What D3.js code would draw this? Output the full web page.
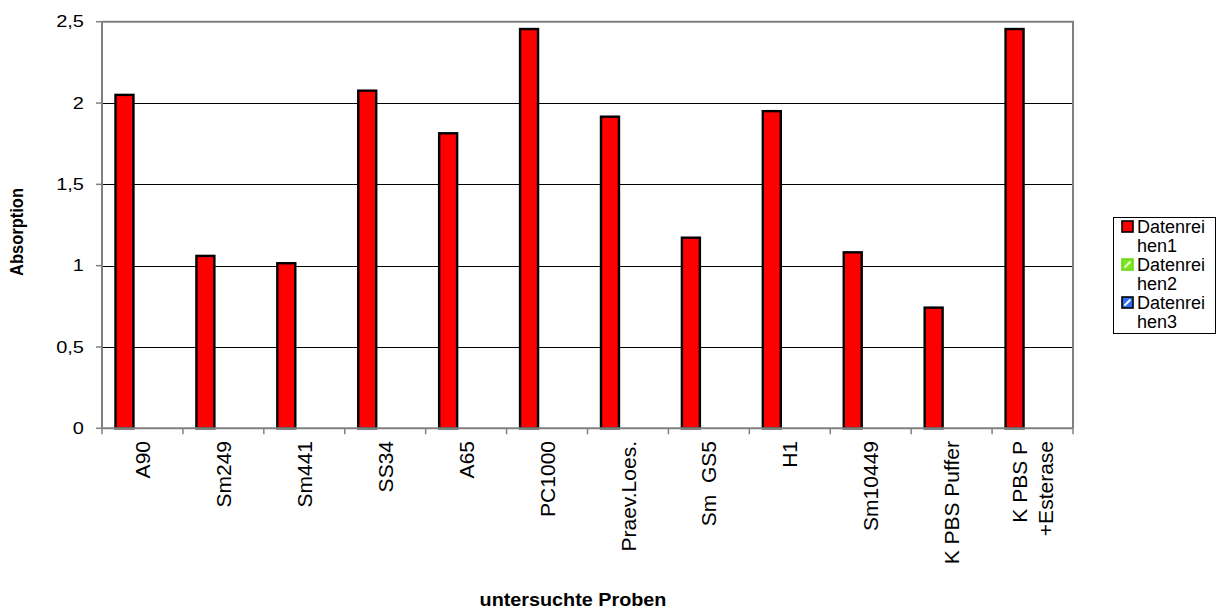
<!DOCTYPE html>
<html>
<head>
<meta charset="utf-8">
<script src="https://cdn.jsdelivr.net/npm/d3@7"></script>
<style>
  html, body { margin: 0; padding: 0; background: #fff; }
  svg { display: block; }
  text { font-family: "Liberation Sans", Arial, sans-serif; fill: #000; white-space: pre; }
</style>
</head>
<body>
<svg id="chart" width="1220" height="612"></svg>
<script>
// Sample names (a "\n" marks a wrapped label)
const categories = ["A90", "Sm249", "Sm441", "SS34", "A65", "PC1000", "Praev.Loes.",
  "Sm  GS5", "H1", "Sm10449", "K PBS Puffer", "K PBS P\n+Esterase"];

// Measured absorption per sample
const datenreihen1 = [2.05, 1.06, 1.015, 2.076, 1.814, 2.455, 1.916, 1.172, 1.95, 1.082, 0.742, 2.455];
const datenreihen2 = [null, null, null, null, null, null, null, null, null, null, null, null];
const datenreihen3 = [null, null, null, null, null, null, null, null, null, null, null, null];

const seriesNames = ["Datenreihen1", "Datenreihen2", "Datenreihen3"];
const legendLines = [["Datenrei", "hen1"], ["Datenrei", "hen2"], ["Datenrei", "hen3"]];
const yTicks = [0, 0.5, 1, 1.5, 2, 2.5];
const yTickLabels = ["0", "0,5", "1", "1,5", "2", "2,5"];

const yTitle = "Absorption";
const xTitle = "untersuchte Proben";

const svg = d3.select("#chart");
const plot = { left: 102, right: 1073, top: 21.7, bottom: 428.3 };

const x0 = d3.scaleBand().domain(categories).range([plot.left, plot.right]).paddingInner(0).paddingOuter(0);
const bw = x0.bandwidth();
// three bars per group, gap of 150% of a bar width
const x1 = d3.scaleBand().domain(seriesNames).range([bw / 6, bw * 5 / 6]).padding(0);
const y = d3.scaleLinear().domain([0, 2.5]).range([plot.bottom, plot.top]);

// horizontal gridlines
svg.append("g")
  .selectAll("line")
  .data(yTicks.filter(v => v > 0 && v < 2.5))
  .join("line")
  .attr("x1", plot.left).attr("x2", plot.right)
  .attr("y1", d => Math.round(y(d)) + 0.5).attr("y2", d => Math.round(y(d)) + 0.5)
  .attr("stroke", "#000").attr("stroke-width", 1);

// plot frame (top and right)
svg.append("path")
  .attr("d", `M${plot.left},${y(2.5)}H${plot.right}V${y(0)}`)
  .attr("fill", "none").attr("stroke", "#808080").attr("stroke-width", 2);

// bars
const seriesData = [datenreihen1, datenreihen2, datenreihen3];
const seriesColors = ["#ff0000", "#7ee620", "#2f6df0"];
const markerStroke = ["#000", "#6fd616", "#000"];
const markerStripe = [null, "#e8ffd8", "#ffffff"];
seriesData.forEach((vals, si) => {
  svg.append("g")
    .selectAll("rect")
    .data(vals.map((v, i) => ({ cat: categories[i], v })).filter(d => d.v != null))
    .join("rect")
    .attr("x", d => x0(d.cat) + x1(seriesNames[si]))
    .attr("width", x1.bandwidth())
    .attr("y", d => y(d.v))
    .attr("height", d => y(0) - y(d.v))
    .attr("fill", seriesColors[si])
    .attr("stroke", "#000")
    .attr("stroke-width", 2.4);
});

// y axis
const yAxis = svg.append("g");
yAxis.append("line")
  .attr("x1", plot.left).attr("x2", plot.left)
  .attr("y1", y(0)).attr("y2", y(2.5))
  .attr("stroke", "#808080").attr("stroke-width", 2);
yAxis.selectAll("line.tick")
  .data(yTicks)
  .join("line")
  .attr("class", "tick")
  .attr("x1", plot.left - 6).attr("x2", plot.left)
  .attr("y1", d => y(d)).attr("y2", d => y(d))
  .attr("stroke", "#808080").attr("stroke-width", 1.5);
yAxis.selectAll("text")
  .data(yTicks)
  .join("text")
  .attr("transform", d => `translate(84,${y(d)}) scale(1.25,1)`)
  .attr("text-anchor", "end")
  .attr("dy", "0.36em")
  .attr("font-size", 16)
  .text((d, i) => yTickLabels[i]);

// x axis
const xAxis = svg.append("g");
xAxis.append("line")
  .attr("x1", plot.left).attr("x2", plot.right)
  .attr("y1", y(0)).attr("y2", y(0))
  .attr("stroke", "#808080").attr("stroke-width", 2);
const bounds = categories.map(c => x0(c)).concat([x0(categories[categories.length - 1]) + bw]);
xAxis.selectAll("line.tick")
  .data(bounds)
  .join("line")
  .attr("class", "tick")
  .attr("x1", d => d).attr("x2", d => d)
  .attr("y1", y(0)).attr("y2", y(0) + 6)
  .attr("stroke", "#808080").attr("stroke-width", 1.5);

const catLabels = xAxis.selectAll("text")
  .data(categories)
  .join("text")
  .attr("transform", d => `translate(${x0(d) + bw / 2},441) rotate(-90)`)
  .attr("text-anchor", "end")
  .attr("font-size", 21);
catLabels.each(function (d) {
  const lines = d.split("\n");
  const t = d3.select(this);
  const step = 26;
  lines.forEach((ln, k) => {
    t.append("tspan")
      .attr("x", 0)
      .attr("y", (k - (lines.length - 1) / 2) * step)
      .attr("dy", "0.36em")
      .text(ln);
  });
});

// axis titles
svg.append("text")
  .attr("transform", `translate(22.5,232) rotate(-90) scale(1,1.15)`)
  .attr("text-anchor", "middle")
  .attr("font-weight", "bold")
  .attr("font-size", 16.5)
  .text(yTitle);

svg.append("text")
  .attr("transform", `translate(573,606) scale(1.1,1)`)
  .attr("text-anchor", "middle")
  .attr("font-weight", "bold")
  .attr("font-size", 18)
  .text(xTitle);

// legend
const lg = svg.append("g");
const lgBox = { x: 1113, y: 217, w: 102, h: 116 };
lg.append("rect")
  .attr("x", lgBox.x + 0.5).attr("y", lgBox.y + 0.5).attr("width", lgBox.w).attr("height", lgBox.h)
  .attr("fill", "#fff").attr("stroke", "#000").attr("stroke-width", 1);
const lineStep = 19;
legendLines.forEach((lines, si) => {
  const base = lgBox.y + 16 + si * 2 * lineStep;
  const g = lg.append("g");
  const mx = 1122, my = base - 12, ms = 11;
  g.append("rect")
    .attr("x", mx).attr("y", my).attr("width", ms).attr("height", ms)
    .attr("fill", seriesColors[si]).attr("stroke", markerStroke[si]).attr("stroke-width", 1.6);
  if (markerStripe[si]) {
    g.append("line")
      .attr("x1", mx + 2.5).attr("y1", my + ms - 2.5).attr("x2", mx + ms - 2.5).attr("y2", my + 2.5)
      .attr("stroke", markerStripe[si]).attr("stroke-width", 2);
  }
  lines.forEach((ln, k) => {
    g.append("text")
      .attr("x", 1137)
      .attr("y", base + k * lineStep)
      .attr("font-size", 18)
      .text(ln);
  });
});
</script>
</body>
</html>
